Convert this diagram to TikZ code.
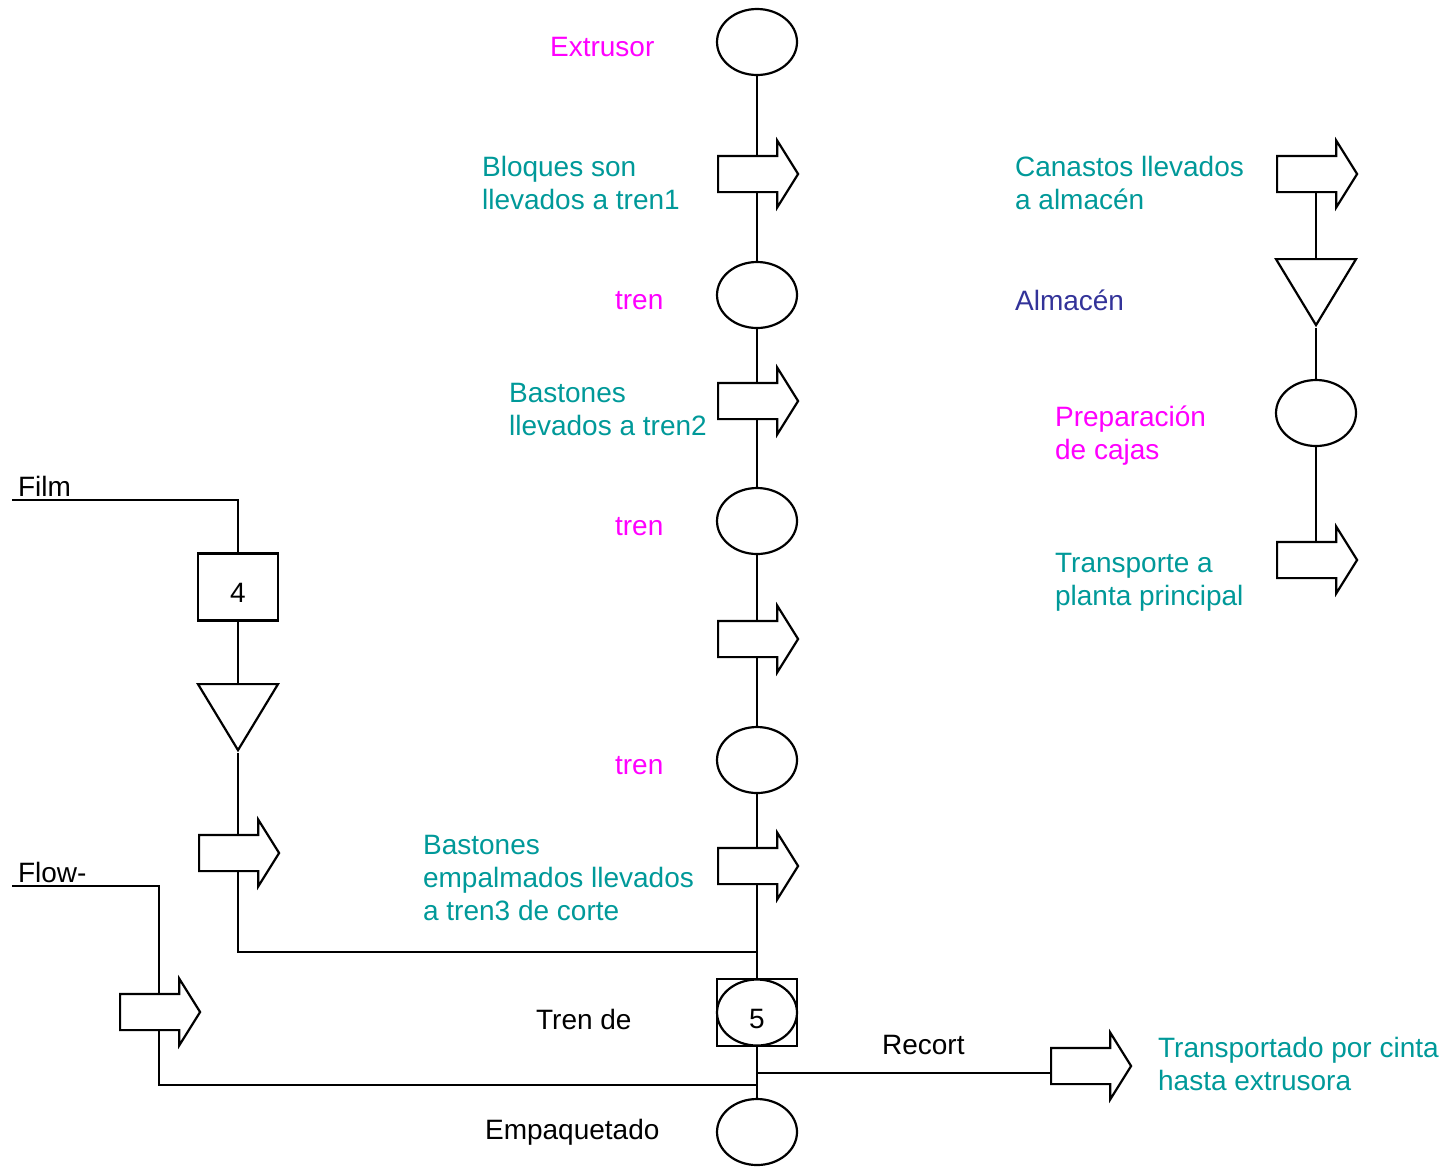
\documentclass[tikz,border=0pt]{standalone}
\usepackage{fontspec}
\setmainfont{Liberation Sans}
\usetikzlibrary{shapes.geometric,shapes.arrows,backgrounds}
\definecolor{ProcTeal}{RGB}{0,153,153}
\definecolor{OpMag}{RGB}{255,0,255}
\definecolor{StoreBlue}{RGB}{51,51,153}

\begin{document}
\begin{tikzpicture}[x=0.5pt,y=-0.5pt,line width=1.1pt,
    font=\fontsize{14}{16.5}\selectfont,
    oper/.style={draw,ellipse,minimum width=40pt,minimum height=33pt,inner sep=0pt},
    insp/.style={draw,rectangle,minimum width=40pt,minimum height=33.5pt,inner sep=0pt},
    transp/.style={draw,fill=white,single arrow,anchor=tail,minimum height=40pt,
        inner xsep=0pt,inner ysep=8.5pt,single arrow head extend=7.6pt,single arrow tip angle=116},
    stor/.style={draw,isosceles triangle,isosceles triangle stretches,shape border rotate=270,
        anchor=apex,minimum width=40pt,minimum height=33pt,inner sep=0pt},
    conn/.style={draw,line width=1.1pt},
    txt/.style={anchor=west,inner sep=0pt,align=left}]
    \useasboundingbox (0,0) rectangle (1449,1168);

    % main line
    \node[oper] (ext) at (757,42) {};
    \node[transp] (a1) at (717,174) {};
    \node[oper] (tren1) at (757,295) {};
    \node[transp] (a2) at (717,401) {};
    \node[oper] (tren2) at (757,521) {};
    \node[transp] (a3) at (717,639) {};
    \node[oper] (tren3) at (757,760) {};
    \node[transp] (a4) at (717,866) {};
    \node[insp] (box5) at (757,1012.5) {};
    \node[oper,text height=15.5pt,text depth=0pt] (op5) at (757,1012.5) {5};
    \node[oper] (emp) at (757,1132) {};
    \coordinate (j1) at (757,952);
    \coordinate (j2) at (757,1085);
    \coordinate (j3) at (757,1073);

    % film
    \coordinate (film) at (12,500);
    \node[insp,text height=15pt,text depth=0pt] (box4) at (238,587) {4};
    \node[stor] (tri1) at (238,753) {};
    \node[transp] (a5) at (198,853) {};

    % flow
    \coordinate (flow) at (12,886);
    \coordinate (fk) at (159,886);
    \node[transp] (a6) at (119,1012) {};

    % recort
    \node[transp] (a7) at (1050,1066) {};

    % almacen
    \node[transp] (a8) at (1276,174) {};
    \node[stor] (tri2) at (1316,328) {};
    \node[oper] (prep) at (1316,413) {};
    \node[transp] (a9) at (1276,560) {};

    \begin{scope}[on background layer]
        \path[conn] (ext) -- (tren1) -- (tren2) -- (tren3) -- (box5) -- (emp);
        \path[conn] (film) -| (box4) -- (tri1);
        \path[conn] (tri1.apex) |- (j1);
        \path[conn] (flow) -- (fk) |- (j2);
        \path[conn] (j3) -- (j3 -| a7.tail);
        \path[conn] (tri2 |- a8.tail) -- (tri2);
        \path[conn] (tri2.apex) -- (prep) -- (prep |- a9.tail);
    \end{scope}

    % labels
    \node[txt,text=OpMag] (lext) at (549,47) {Extrusor};
    \node[txt,text=ProcTeal] (la1) at (481,183) {Bloques son\\llevados a tren1};
    \node[txt,text=OpMag] (ltren1) at (614,301) {tren};
    \node[txt,text=ProcTeal] (la2) at (508,409) {Bastones\\llevados a tren2};
    \node[txt,text=OpMag] (ltren2) at (614,527) {tren};
    \node[txt,text=OpMag] (ltren3) at (614,766) {tren};
    \node[txt,text=ProcTeal] (la4) at (422,878) {Bastones\\empalmados llevados\\a tren3 de corte};
    \node[txt] (l5) at (535,1019) {Tren de};
    \node[txt] (lemp) at (484,1132) {Empaquetado};
    \node[txt] (lfilm) at (17,486) {Film};
    \node[txt] (lflow) at (17,872) {Flow-};
    \node[txt] (lrec) at (881,1045) {Recort};
    \node[txt,text=ProcTeal] (la7) at (1157,1064) {Transportado por cinta\\hasta extrusora};
    \node[txt,text=ProcTeal] (la8) at (1014,183) {Canastos llevados\\a almac\'en};
    \node[txt,text=StoreBlue] (ltri2) at (1014,300) {Almac\'en};
    \node[txt,text=OpMag] (lprep) at (1054,436) {Preparaci\'on\\de cajas};
    \node[txt,text=ProcTeal] (la9) at (1054,582) {Transporte a\\planta principal};
\end{tikzpicture}
\end{document}
